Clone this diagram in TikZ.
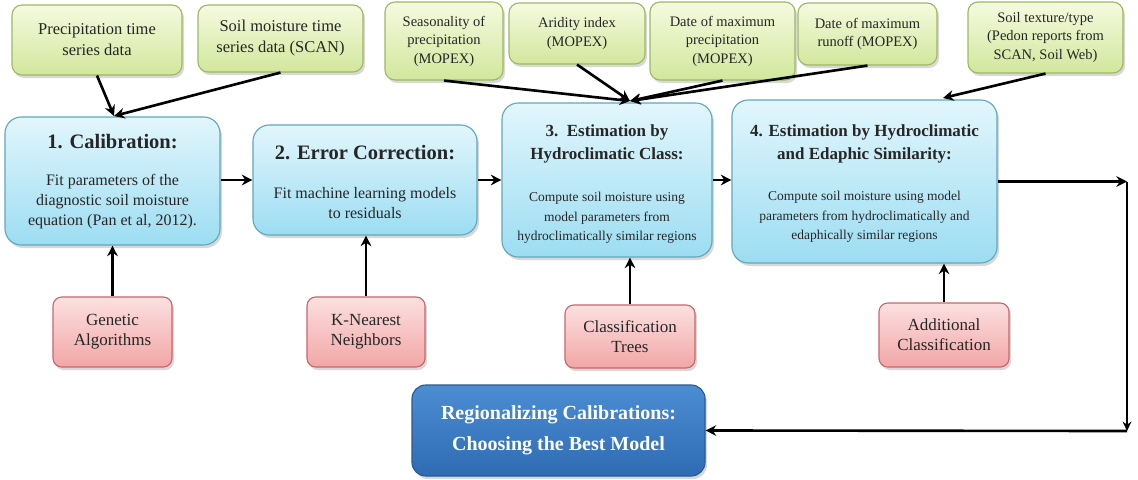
\documentclass[tikz,border=0pt]{standalone}
\usepackage{fontspec}
\setmainfont{Liberation Serif}[FakeSlant=0.0001]
\newfontfamily\rmX{Liberation Serif}[FakeStretch=1.0001]
\usetikzlibrary{arrows.meta,shadows}
\definecolor{gtop}{HTML}{F5FADF}
\definecolor{gbot}{HTML}{D2E79C}
\definecolor{gbord}{HTML}{9DB862}
\definecolor{btop}{HTML}{E2F6FC}
\definecolor{bbot}{HTML}{9CDDF2}
\definecolor{bbord}{HTML}{5FA8BE}
\definecolor{rtop}{HTML}{FCE0E0}
\definecolor{rbot}{HTML}{F2A6A6}
\definecolor{rbord}{HTML}{C9666A}
\definecolor{ktop}{HTML}{4C8DD2}
\definecolor{kbot}{HTML}{2E6BB3}
\definecolor{kbord}{HTML}{2A5A92}
\definecolor{txtc}{HTML}{262626}
\newcommand\fgbig{\rmX\fontsize{13.2}{16.8}\selectfont}
\newcommand\fgsm{\fontsize{11.6}{14.8}\selectfont}
\newcommand\fred{\rmX\fontsize{13.6}{16}\selectfont}
\newcommand\hdA{\fontsize{16.4}{19.2}\selectfont\bfseries}
\newcommand\hdB{\fontsize{13.6}{18.4}\selectfont\bfseries}
\newcommand\bdA{\fontsize{12.8}{16}\selectfont}
\newcommand\bdB{\fontsize{10.8}{15.6}\selectfont}
\newcommand\freg{\fontsize{16}{24.8}\selectfont\bfseries}
\begin{document}
\begin{tikzpicture}[x=0.8pt,y=-0.8pt,
  sz/.style 2 args={minimum width={#1*0.8pt}, minimum height={#2*0.8pt}},
  shad/.style={drop shadow={shadow xshift=1.6pt,shadow yshift=-2.4pt,opacity=0.3}},
  greenbox/.style={shad, draw=gbord, line width=0.9pt, rounded corners=8pt, top color=gtop, bottom color=gbot, inner sep=0pt, align=center, text=txtc},
  bluebox/.style={shad, draw=bbord, line width=0.9pt, rounded corners=13pt, top color=btop, bottom color=bbot, inner sep=0pt},
  redbox/.style={shad, draw=rbord, line width=0.9pt, rounded corners=7pt, top color=rtop, bottom color=rbot, inner sep=0pt},
  regbox/.style={shad, draw=kbord, line width=0.9pt, rounded corners=11pt, top color=ktop, bottom color=kbot, inner sep=0pt, align=center, font=\freg, text=white},
  txt/.style={inner sep=0pt, align=center, text=txtc},
  arr/.style={-{Stealth[length=8.5pt,width=8.5pt]}, line width=2.1pt},
  thinarr/.style={-{Stealth[length=7.5pt,width=7pt]}, line width=1.6pt}]
\useasboundingbox[fill=white] (0,0) rectangle (1138,479);

% top inputs
\node[greenbox, sz={170}{70}] (g1) at (97,40) {};
\node[txt, font=\fgbig] (g1t) at (g1) {Precipitation time\\series data};
\node[greenbox, sz={165}{67}] (g2) at (280.5,38.5) {};
\node[txt, font=\fgbig] (g2t) at (g2) {Soil moisture time\\series data (SCAN)};
\node[greenbox, sz={118}{78}, font=\fgsm] (g3) at (444,41) {Seasonality of\\precipitation\\(MOPEX)};
\node[greenbox, sz={136}{61}, font=\fgsm] (g4) at (577,33.5) {Aridity index\\(MOPEX)};
\node[greenbox, sz={145}{78}, font=\fgsm] (g5) at (722.5,41) {Date of maximum\\precipitation\\(MOPEX)};
\node[greenbox, sz={139}{62}, font=\fgsm] (g6) at (867.5,34) {Date of maximum\\runoff (MOPEX)};
\node[greenbox, sz={155}{71}, font=\fgsm] (g7) at (1045.5,37.5) {Soil texture/type\\(Pedon reports from\\SCAN, Soil Web)};

% main steps
\node[bluebox, sz={215}{128}] (b1) at (112.5,181) {};
\node[txt, font=\hdA] (b1h) at (112.5,142) {1. Calibration:};
\node[txt, font=\bdA] (b1t) at (112.5,202) {Fit parameters of the\\diagnostic soil moisture\\equation (Pan et al, 2012).};

\node[bluebox, sz={224}{110}] (b2) at (365,180) {};
\node[txt, font=\hdA] (b2h) at (365,153) {2. Error Correction:};
\node[txt, font=\bdA] (b2t) at (365,203) {Fit machine learning models\\to residuals};

\node[bluebox, sz={210}{154}] (b3) at (607,180) {};
\node[txt, font=\hdB] (b3h) at (607,143.5) {3.\ \ Estimation by\\Hydroclimatic Class:};
\node[txt, font=\bdB] (b3t) at (607,218) {Compute soil moisture using\\model parameters from\\hydroclimatically similar regions};

\node[bluebox, sz={265}{163}] (b4) at (864.5,181.5) {};
\node[txt, font=\hdB] (b4h) at (864.5,143.5) {4. Estimation by Hydroclimatic\\and Edaphic Similarity:};
\node[txt, font=\bdB] (b4t) at (864.5,217) {Compute soil moisture using model\\parameters from hydroclimatically and\\edaphically similar regions};

% methods
\node[redbox, sz={119}{70}] (r1) at (112.5,332) {};
\node[txt, font=\fred] (r1t) at (r1) {Genetic\\Algorithms};
\node[redbox, sz={118}{70}] (r2) at (366,332) {};
\node[txt, font=\fred] (r2t) at (r2) {K-Nearest\\Neighbors};
\node[redbox, sz={130}{63}] (r3) at (630,336.5) {};
\node[txt, font=\fred] (r3t) at (r3) {Classification\\Trees};
\node[redbox, sz={130}{64}] (r4) at (944,335) {};
\node[txt, font=\fred] (r4t) at (r4) {Additional\\Classification};

\node[regbox, sz={293}{91}] (reg) at (558.5,430.5) {Regionalizing Calibrations:\\Choosing the Best Model};

% connectors: inputs
\coordinate (t1) at (114,116);
\coordinate (t3) at (630,101);
\coordinate (t4) at (943,98);
\draw[arr] (g1.south) -- (t1);
\draw[arr] (g2.south) -- (t1);
\draw[arr] (g3.south) -- (t3);
\draw[arr] (g4.south) -- (t3);
\draw[arr] (g5.south) -- (t3);
\draw[arr] (g6.south) -- (t3);
\draw[arr] (g7.south) -- (t4);

% connectors: chain
\draw[arr] (b1.east |- b2.west) -- (b2.west);
\draw[arr] (b2.east) -- (b2.east -| b3.west);
\draw[arr] (b3.east) -- (b3.east -| b4.west);

% connectors: methods
\draw[arr] (r1.north) -- (r1.north |- b1.south);
\draw[arr] (r2.north) -- (r2.north |- b2.south);
\draw[arr] (r3.north) -- (r3.north |- b3.south);
\draw[arr] (r4.north) -- (r4.north |- b4.south);

% loop to final
\coordinate (c1) at (1127,181.5);
\coordinate (c2) at (1127,431);
\draw[arr] (b4.east) -- (c1);
\draw[thinarr] (c1) -- (c2);
\draw[arr] (c2) -- (reg.east);
\end{tikzpicture}
\end{document}
